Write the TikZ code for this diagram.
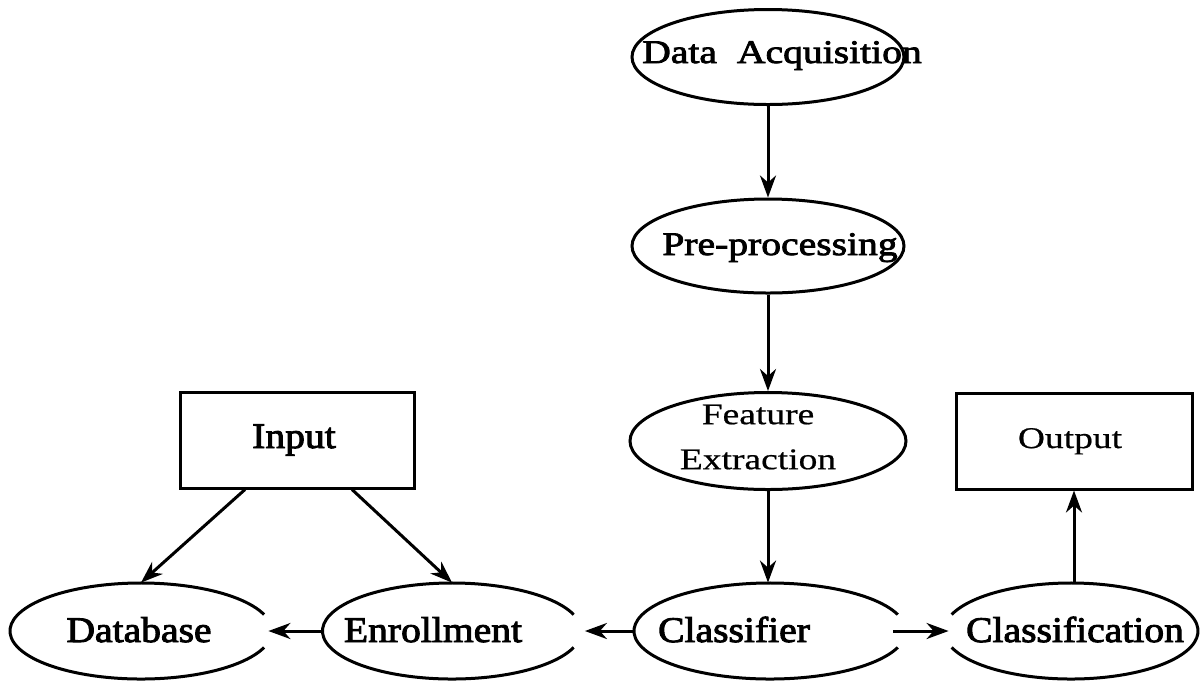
\documentclass[tikz,border=0pt]{standalone}
\usepackage{fontspec}
\setmainfont{Liberation Serif}
\newfontfamily\stagefont{Liberation Serif}[FakeStretch=1.1, FakeBold=2.6]
\newfontfamily\headfont{Liberation Serif}[FakeStretch=1.2, FakeBold=2.4]
\newfontfamily\plainfont{Liberation Serif}[FakeStretch=1.25, FakeBold=0.6]
\usetikzlibrary{shapes.geometric,arrows.meta}
\begin{document}
\begin{tikzpicture}[x=0.5pt,y=-0.5pt,
  oval/.style={ellipse, draw, line width=1.5pt, inner sep=0pt},
  openoval/.style={ellipse, inner sep=0pt},
  panel/.style={rectangle, draw, line width=1.5pt, inner sep=0pt},
  rim/.style={line width=1.5pt},
  flow/.style={line width=1.5pt, -{Stealth[length=11pt,width=8pt,inset=3.5pt]}},
  bigtxt/.style={font=\headfont\fontsize{16.5}{19}\selectfont, anchor=base, inner sep=0pt},
  lowtxt/.style={font=\stagefont\fontsize{18}{21}\selectfont, anchor=base, inner sep=0pt},
  thintxt/.style={font=\plainfont\fontsize{15}{22.5}\selectfont, inner sep=0pt},
]
\fill[white] (0,0) rectangle (1201,682);
\useasboundingbox (0,0) rectangle (1201,682);

% processing chain
\node[oval, minimum width=136pt, minimum height=47.5pt] (da) at (768,57) {};
\node[oval, minimum width=136pt, minimum height=47pt] (pp) at (768,246) {};
\node[oval, minimum width=138pt, minimum height=48.5pt] (fe) at (768,441) {};

% boxes
\node[panel, minimum width=117pt, minimum height=48pt] (in) at (297,440) {};
\node[panel, minimum width=118pt, minimum height=48pt] (out) at (1074,441) {};

% bottom row, outlines drawn with an opening where the arrows meet them
\node[openoval, minimum width=131pt, minimum height=48pt] (db) at (141,631) {};
\node[openoval, minimum width=129.5pt, minimum height=48pt] (en) at (452,631) {};
\node[openoval, minimum width=136pt, minimum height=48pt] (cl) at (770,631) {};
\node[openoval, minimum width=127pt, minimum height=48pt] (cf) at (1071,631) {};

\draw[rim] (db.center) ++(20:65.5pt and 24pt)
  arc[start angle=20, end angle=340, x radius=65.5pt, y radius=24pt];
\draw[rim] (en.center) ++(20:64.75pt and 24pt)
  arc[start angle=20, end angle=340, x radius=64.75pt, y radius=24pt];
\draw[rim] (cl.center) ++(20:68pt and 24pt)
  arc[start angle=20, end angle=340, x radius=68pt, y radius=24pt];
\draw[rim] (cf.center) ++(200:63.5pt and 24pt)
  arc[start angle=200, end angle=520, x radius=63.5pt, y radius=24pt];

% labels
\node[bigtxt] (da-t) at (782,63) {Data\hspace{10pt}Acquisition};
\node[bigtxt] (pp-t) at (780,255) {Pre-processing};
\node[thintxt, align=center] (fe-t) at (758,437) {Feature\\Extraction};
\node[thintxt, anchor=base] (out-t) at (1070,448) {Output};
\node[lowtxt] (in-t) at (294,448) {Input};
\node[lowtxt] (db-t) at (139,642) {Database};
\node[lowtxt] (en-t) at (433,642) {Enrollment};
\node[lowtxt] (cl-t) at (734,642) {Classifier};
\node[lowtxt] (cf-t) at (1075,642) {Classification};

% connectors
\draw[flow] (da) -- (pp);
\draw[flow] (pp) -- (fe);
\draw[flow] (fe.south) -- (fe.south |- cl.north);
\draw[flow] ([xshift=-26pt]in.south) -- (db.north);
\draw[flow] ([xshift=27.5pt]in.south) -- (en.north);
\draw[flow, shorten >=-2pt] (en.west) -- (db.east);
\draw[flow, shorten >=1.5pt] (cl.west) -- (en.east);
\draw[flow, shorten <=-6.5pt, shorten >=-2.5pt] (cl.east) -- (cf.west);
\draw[flow] (cf.north -| out.south) -- (out.south);
\end{tikzpicture}
\end{document}
